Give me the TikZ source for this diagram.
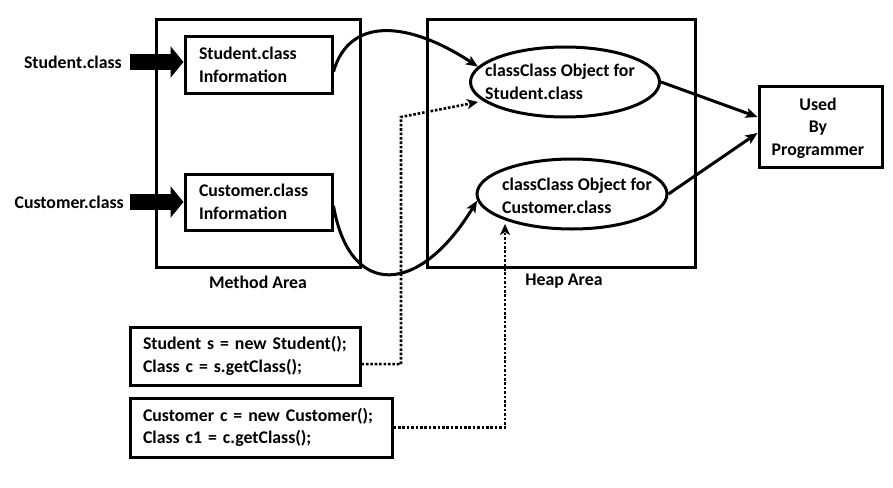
\documentclass[tikz,border=0pt]{standalone}
\usepackage{fontspec}
\setmainfont{Carlito}
\usetikzlibrary{arrows.meta,shapes.geometric}
\tikzset{
  txt/.style={font=\fontsize{17.8}{22.5}\selectfont\bfseries},
  box/.style={txt,draw,line width=3pt,rectangle,align=left},
  area/.style={draw,line width=3pt,rectangle,inner sep=0pt},
  oval/.style={draw,line width=3pt,ellipse,inner sep=0pt},
  conn/.style={line width=3pt,-{Stealth[length=12pt,width=10pt,inset=3pt]}},
  dotconn/.style={line width=2.6pt,dash pattern=on 2.6pt off 1.8pt,-{Stealth[length=11pt,width=10pt,inset=3pt]}},
  fat/.style={line width=16pt,-{Triangle[length=13pt,width=31pt]}}
}
\begin{document}
\begin{tikzpicture}[x=1pt,y=-1pt]
\useasboundingbox (0,0) rectangle (893,487);
% areas
\node[area,minimum width=204pt,minimum height=247pt] (ma) at (258,143.5) {};
\node[area,minimum width=268pt,minimum height=247pt] (ha) at (561,143.5) {};
\node[txt,inner sep=0pt] (mal) at (258,282) {Method Area};
\node[txt,inner sep=0pt] (hal) at (564,281) {Heap Area};
% class info boxes
\node[box,minimum width=147pt,minimum height=56pt,text width=119pt,inner xsep=14pt] (si) at (258.5,65) {Student.class\\Information};
\node[box,minimum width=147pt,minimum height=56pt,text width=119pt,inner xsep=14pt] (ci) at (258.5,202) {Customer.class\\Information};
% input labels
\node[txt,inner sep=0pt,anchor=east] (sl) at (122,62) {Student.class};
\node[txt,inner sep=0pt,anchor=east] (cl) at (124,202) {Customer.class};
\draw[fat] ([xshift=8pt]sl.east) -- (sl.east -| si.west);
\draw[fat] ([xshift=6pt]cl.east) -- (cl.east -| ci.west);
% ellipses
\node[oval,minimum width=189pt,minimum height=70pt] (e1) at (565,82) {};
\node[txt,align=left,inner sep=0pt] (e1t) at (560,82) {classClass Object for\\Student.class};
\node[oval,minimum width=190pt,minimum height=70pt] (e2) at (572,194) {};
\node[txt,align=left,inner sep=0pt] (e2t) at (577,196) {classClass Object for\\Customer.class};
% used by programmer
\node[box,align=center,minimum width=123pt,minimum height=81pt,inner sep=0pt] (u) at (820.5,126.5) {};
\node[txt,align=center,inner sep=0pt] (ut) at (818,128) {Used\\By\\Programmer};
% code boxes
\node[box,minimum width=230pt,minimum height=58pt,text width=204pt,inner xsep=13pt] (c1) at (245,356) {Student s = new Student();\\Class c = s.getClass();};
\node[box,minimum width=262pt,minimum height=59pt,text width=236pt,inner xsep=13pt] (c2) at (261,427.5) {Customer c = new Customer();\\Class c1 = c.getClass();};
% curves
\draw[conn] (si.-5) .. controls (350,15) and (410,22) .. (e1.170);
\draw[conn] (ci.-3) .. controls (350,300) and (420,295) .. (e2.184);
% to programmer
\draw[conn] (e1.east) -- ([yshift=9.5pt]u.west);
\draw[conn] (e2.east) -- ([yshift=-6.5pt]u.west);
% dotted
\coordinate (d1) at (401,117);
\coordinate (d1t) at (478,102);
\draw[dotconn] (c1.-4) -| (d1) -- (d1t);
\coordinate (d2t) at (505,224);
\draw[dotconn] (c2.east) -| (d2t);
\end{tikzpicture}
\end{document}
